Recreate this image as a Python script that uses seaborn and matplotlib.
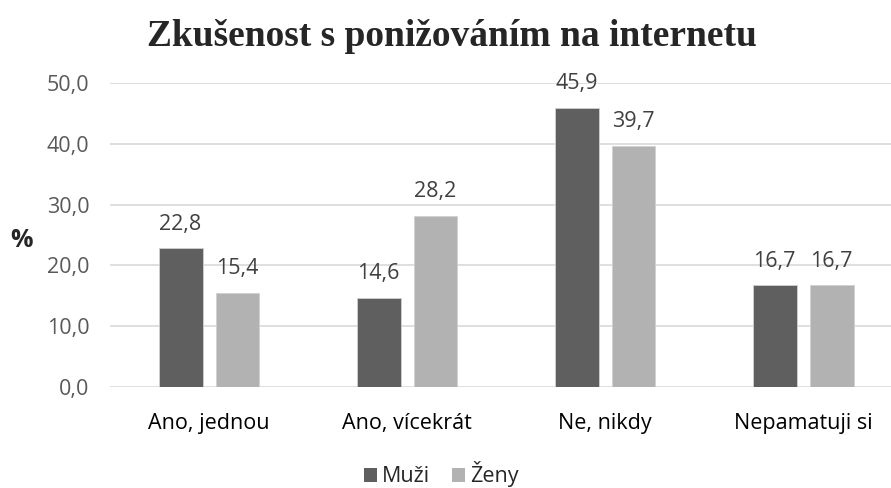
import seaborn as sns
import matplotlib.pyplot as plt
import pandas as pd
from matplotlib.ticker import FuncFormatter
from matplotlib.patches import Patch

# data
categories = ["Ano, jednou", "Ano, vícekrát", "Ne, nikdy", "Nepamatuji si"]
muzi = [22.8, 14.6, 45.9, 16.7]
zeny = [15.4, 28.2, 39.7, 16.7]
series = ["Muži", "Ženy"]
colors = ["#5f5f5f", "#b2b2b2"]

df = pd.DataFrame({
    "kategorie": categories * 2,
    "pohlavi": [series[0]] * 4 + [series[1]] * 4,
    "hodnota": muzi + zeny,
})

sns.set_style("white")
plt.rcParams["font.family"] = ["Open Sans", "DejaVu Sans"]

fig = plt.figure(figsize=(8.91, 4.88), dpi=100)
ax = fig.add_axes([0.1235, 0.2074, 0.889, 0.6216])

sns.barplot(data=df, x="kategorie", y="hodnota", hue="pohlavi",
            hue_order=series, palette=colors, width=0.575, gap=0.23,
            edgecolor="#d0d0d0", linewidth=0.6, legend=False, ax=ax)

# data labels with decimal comma
for cont in ax.containers:
    ax.bar_label(cont, labels=[f"{b.get_height():.1f}".replace(".", ",") for b in cont],
                 padding=10, fontsize=15.5, color="#404040")

ax.set_ylim(0, 50)
ax.set_yticks([0, 10, 20, 30, 40, 50])
ax.yaxis.set_major_formatter(FuncFormatter(lambda v, p: f"{v:.1f}".replace(".", ",")))
ax.grid(axis="y", color="#d9d9d9", linewidth=1.2)
ax.set_axisbelow(True)
for s in ax.spines.values():
    s.set_visible(False)
ax.tick_params(axis="y", length=0, pad=15, labelsize=15.5, labelcolor="#595959")
ax.tick_params(axis="x", length=0, pad=19, labelsize=15.5, labelcolor="#000000")
ax.set_xlabel("")
ax.set_ylabel("")

fig.text(0.024, 0.508, "%", fontsize=18, fontweight="bold", ha="center", va="center")
fig.text(0.507, 0.925, "Zkušenost s ponižováním na internetu", fontsize=27,
         fontweight="bold", ha="center", va="center", family=["Liberation Serif"])

handles = [Patch(facecolor=c, edgecolor="none") for c in colors]
fig.legend(handles, series, loc="center", bbox_to_anchor=(0.495, 0.028), ncol=2,
           frameon=False, fontsize=15.5, handlelength=0.6, handleheight=0.6,
           handletextpad=0.25, columnspacing=1.0)

fig.savefig("out.png", dpi=100)
